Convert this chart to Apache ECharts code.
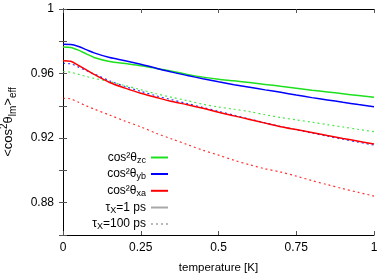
<!DOCTYPE html>
<html><head><meta charset="utf-8">
<script src="https://cdn.jsdelivr.net/npm/echarts@6/dist/echarts.min.js"></script>
<style>html,body{margin:0;padding:0;background:#fff}#c{width:386px;height:279px}</style>
</head><body><div id="c"></div>
<script>
// temperature [K]
const temperature = [0,0.025,0.05,0.075,0.1,0.15,0.2,0.25,0.3,0.35,0.4,0.45,0.5,0.55,0.6,0.65,0.7,0.75,0.8,0.85,0.9,0.95,1];
// tau_X = 1 ps (solid)
const zc1 = [0.9765,0.9762,0.9745,0.9722,0.9700,0.9675,0.9662,0.9649,0.9632,0.9614,0.9595,0.9578,0.9565,0.9555,0.9544,0.9533,0.9521,0.9509,0.9497,0.9486,0.9475,0.9464,0.9453];
const yb1 = [0.9781,0.9780,0.9768,0.9748,0.9728,0.9699,0.9680,0.9658,0.9633,0.9609,0.9588,0.9568,0.9549,0.9531,0.9515,0.9499,0.9484,0.9467,0.9451,0.9437,0.9422,0.9408,0.9395];
const xa1 = [0.9680,0.9676,0.9650,0.9623,0.9595,0.9545,0.9510,0.9478,0.9452,0.9427,0.9407,0.9385,0.9360,0.9338,0.9316,0.9293,0.9271,0.9253,0.9235,0.9216,0.9198,0.9181,0.9164];
// tau_X = 100 ps (dotted)
const zc100 = [0.9612,0.9608,0.9595,0.9582,0.9570,0.9550,0.9525,0.9500,0.9475,0.9453,0.9432,0.9410,0.9393,0.9379,0.9364,0.9345,0.9328,0.9313,0.9299,0.9284,0.9269,0.9254,0.9240];
const yb100 = [0.9663,0.9660,0.9640,0.9618,0.9598,0.9555,0.9520,0.9490,0.9462,0.9438,0.9414,0.9390,0.9366,0.9342,0.9318,0.9295,0.9272,0.9252,0.9232,0.9212,0.9193,0.9175,0.9157];
const xa100 = [0.9447,0.9443,0.9422,0.9400,0.9380,0.9343,0.9305,0.9270,0.9230,0.9195,0.9160,0.9125,0.9095,0.9063,0.9035,0.9010,0.8990,0.8965,0.8937,0.8912,0.8887,0.8864,0.8841];
// tick labels
const xTickLabels = ['0','0.25','0.5','0.75','1'];
const yTickLabels = ['0.88','0.92','0.96','1'];

const FONT = 'Liberation Sans, Arial, sans-serif';
const GREEN = '#1ee01e', BLUE = '#0000ff', RED = '#ff0000';
const pairs = ys => temperature.map((t,i)=>[t, ys[i]]);

const legendText = {
  zc: '{n|cos²θ}{s|zc}',
  yb: '{n|cos²θ}{s|yb}',
  xa: '{n|cos²θ}{s|xa}',
  t1: '{n|τ}{s|X}{n|=1 ps}',
  t100: '{n|τ}{s|X}{n|=100 ps}'
};
const rich = {
  n: {fontSize: 12, fontFamily: FONT, color: '#000', lineHeight: 15},
  s: {fontSize: 9, fontFamily: FONT, color: '#000', lineHeight: 15, verticalAlign: 'bottom'}
};
const nameRich = {
  n: {fontSize: 13, fontFamily: FONT, color: '#000', lineHeight: 19},
  p: {fontSize: 10, fontFamily: FONT, color: '#000', lineHeight: 19, verticalAlign: 'top'},
  s: {fontSize: 10, fontFamily: FONT, color: '#000', lineHeight: 19, verticalAlign: 'bottom'}
};

function solid(name, data, color) {
  return {name, type: 'line', data: pairs(data), symbol: 'none', smooth: 0.3,
    lineStyle: {color, width: 1.5}, itemStyle: {color}, z: 3};
}
function dotted(name, data, color) {
  return {name, type: 'line', data: pairs(data), symbol: 'none', smooth: 0.3,
    lineStyle: {color, width: 1.2, type: [2, 3], opacity: 0.8}, itemStyle: {color}, z: 2};
}

const legendRows = ['zc','yb','xa','t1','t100'];
const rowCenters = [159, 175.5, 192.3, 209, 225.5];
const legends = legendRows.map((nm, i) => ({
  data: [nm], orient: 'vertical', align: 'right', right: 217, top: rowCenters[i] - 7.5,
  padding: 0, itemWidth: 17, itemHeight: 15, itemGap: 0,
  itemStyle: {opacity: 0, borderWidth: 0},
  formatter: name => legendText[name],
  textStyle: {rich, fontFamily: FONT, fontSize: 12}
}));

function tickFmt(labels) {
  return v => { for (const l of labels) if (Math.abs(Number(l) - v) < 1e-6) return l; return ''; };
}

const axisCommon = {
  axisLine: {show: true, lineStyle: {color: '#000', width: 1}},
  axisTick: {show: true, inside: true, length: 4, lineStyle: {color: '#555'}},
  splitLine: {show: false}
};

const option = {
  animation: false,
  backgroundColor: '#fff',
  grid: {left: 63, right: 12, top: 9, bottom: 44, containLabel: false, outerBoundsMode: 'none'},
  legend: legends,
  xAxis: [
    Object.assign({type: 'value', min: 0, max: 1, interval: 0.25, position: 'bottom',
      name: 'temperature [K]', nameLocation: 'middle', nameGap: 27,
      nameTextStyle: {fontFamily: FONT, fontSize: 11.5, color: '#000'},
      axisLabel: {margin: 7, fontFamily: FONT, fontSize: 12, color: '#000', formatter: tickFmt(xTickLabels)}}, axisCommon),
    Object.assign({type: 'value', min: 0, max: 1, interval: 0.25, position: 'top',
      axisLabel: {show: false}}, axisCommon)
  ],
  yAxis: [
    Object.assign({type: 'value', min: 0.86, max: 1, interval: 0.02, position: 'left',
      name: '{n|<cos}{p|2}{n|θ}{s|lm}{n|>}{s|eff}', nameLocation: 'middle', nameGap: 45, nameRotate: 90,
      nameTextStyle: {fontFamily: FONT, fontSize: 13, color: '#000', rich: nameRich},
      axisLabel: {margin: 9, fontFamily: FONT, fontSize: 12, color: '#000', formatter: tickFmt(yTickLabels)}}, axisCommon),
    Object.assign({type: 'value', min: 0.86, max: 1, interval: 0.02, position: 'right',
      axisLabel: {show: false}}, axisCommon)
  ],
  series: [
    solid('zc', zc1, GREEN),
    solid('yb', yb1, BLUE),
    solid('xa', xa1, RED),
    dotted('zc100', zc100, GREEN),
    dotted('yb100', yb100, BLUE),
    dotted('xa100', xa100, RED),
    {name: 't1', type: 'line', data: [], symbol: 'none', lineStyle: {color: '#a8a8a8', width: 1.2}, itemStyle: {color: '#a8a8a8'}},
    {name: 't100', type: 'line', data: [], symbol: 'none', lineStyle: {color: '#b8b8b8', width: 1, type: [2, 3]}, itemStyle: {color: '#b8b8b8'}}
  ]
};
const chart = echarts.init(document.getElementById('c'), null, {renderer: 'canvas'});
chart.setOption(option);
</script></body></html>
